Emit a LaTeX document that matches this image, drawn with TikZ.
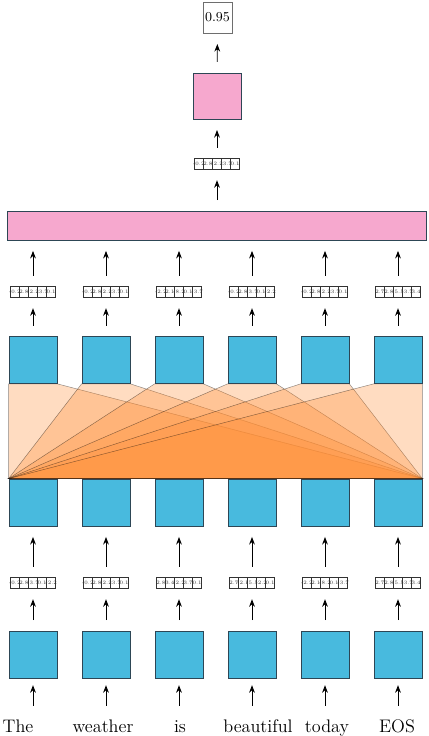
\documentclass[tikz,border=0pt]{standalone}
\usepackage{tikz}
\usetikzlibrary{arrows.meta,positioning,calc,backgrounds}
\definecolor{cellblue}{RGB}{72,186,222}
\definecolor{celledge}{RGB}{45,70,85}
\definecolor{headpink}{RGB}{246,168,206}
\definecolor{attn}{RGB}{255,140,50}
\definecolor{soft}{RGB}{110,110,110}

% one cell and one five-value row of an embedding vector
\newcommand{\vcell}[1]{\makebox[6pt]{\rule[-2pt]{0pt}{6.4pt}#1}}
\newcommand{\vrow}[5]{{\fontsize{3.4}{3.6}\selectfont\setlength{\tabcolsep}{0pt}%
  \setlength{\arrayrulewidth}{0.5pt}\color{black!80}%
  \begin{tabular}{|c|c|c|c|c|}\hline
  \vcell{#1}&\vcell{#2}&\vcell{#3}&\vcell{#4}&\vcell{#5}\\\hline
  \end{tabular}}}

\begin{document}
\begin{tikzpicture}[x=0.66pt,y=-0.66pt,
  cell/.style={draw=celledge,fill=cellblue,line width=0.5pt,inner sep=0pt,
               minimum width=31.7pt,minimum height=31pt},
  headbox/.style={draw=celledge,fill=headpink,line width=0.5pt,inner sep=0pt},
  vecbox/.style={inner sep=0pt,outer sep=0pt},
  word/.style={anchor=base,inner sep=1pt,font=\large,text height=8.2pt,text depth=2.4pt},
  flow/.style={-{Stealth[length=5pt,width=3.8pt]},line width=0.6pt,
               shorten <=7pt,shorten >=7pt},
  attnfill/.style={fill=attn,fill opacity=0.3,draw=black,draw opacity=0.45,
                   line width=0.3pt}]
  \useasboundingbox (0,0) rectangle (428,736);

  % input words
  \foreach \w/\x [count=\i] in {The/18,weather/103,is/180,beautiful/258,today/327,EOS/397}
    \node[word] (w\i) at (\x,732) {\w};

  % three rows of cells
  \foreach \i [evaluate=\i as \x using 33+73*(\i-1)] in {1,...,6} {
    \node[cell] (b\i) at (\x,654.5) {};
    \node[cell] (m\i) at (\x,502.5) {};
    \node[cell] (u\i) at (\x,360) {};
  }

  % embedding vectors
  \foreach \i/\a/\b/\c/\d/\e in {1/-0.2/2.8/-3.7/0.1/-2.2,2/-0.2/2.8/-2.2/-3.7/0.1,
      3/2.8/3.4/-2.2/3.7/0.1,4/2.7/-2.1/-5.5/-2.2/0.1,5/-2.2/2.1/-8.2/0.1/-3.7,
      6/2.7/2.8/-5.5/-3.7/3.4}
    \node[vecbox] (bv\i) at (33+73*\i-73,583) {\vrow{\a}{\b}{\c}{\d}{\e}};
  \foreach \i/\a/\b/\c/\d/\e in {1/-0.2/2.8/-2.2/-3.7/0.1,2/-0.2/2.8/-2.2/-3.7/0.1,
      3/-2.2/2.1/-8.2/0.1/-3.7,4/-0.2/2.8/-3.7/0.1/-2.2,5/-0.2/2.8/-2.2/-3.7/0.1,
      6/2.7/2.8/-5.5/-3.7/3.4}
    \node[vecbox] (uv\i) at (33+73*\i-73,292) {\vrow{\a}{\b}{\c}{\d}{\e}};

  % pooling bar, head and score
  \node[headbox,minimum width=277pt,minimum height=19pt] (bar) at (217,225.5) {};
  \node[vecbox] (tv) at (217,164) {\vrow{-0.2}{2.8}{-2.2}{-3.7}{0.1}};
  \node[headbox,minimum width=31.7pt,minimum height=30.4pt] (head) at (217,96) {};
  \node[draw=soft,line width=0.5pt,inner sep=0pt,minimum width=19pt,minimum height=20.5pt,
        font=\small] (out) at (217.5,17.5) {0.95};

  % attention spread from every upper cell onto the lower row
  \begin{scope}[on background layer]
    \foreach \i in {1,...,6}
      \filldraw[attnfill] (u\i.south west) -- (u\i.south east)
        -- (m6.north east) -- (m1.north west) -- cycle;
  \end{scope}

  % arrows
  \foreach \i in {1,...,6} {
    \draw[flow,shorten <=8pt,shorten >=4.5pt] (w\i.north -| b\i.south) -- (b\i);
    \draw[flow] (b\i) -- (bv\i);
    \draw[flow] (bv\i) -- (m\i);
    \draw[flow] (u\i) -- (uv\i);
    \draw[flow] (uv\i) -- (uv\i |- bar.south);
  }
  \draw[flow] (bar) -- (tv);
  \draw[flow] (tv) -- (head);
  \draw[flow] (head) -- (out);
\end{tikzpicture}
\end{document}
